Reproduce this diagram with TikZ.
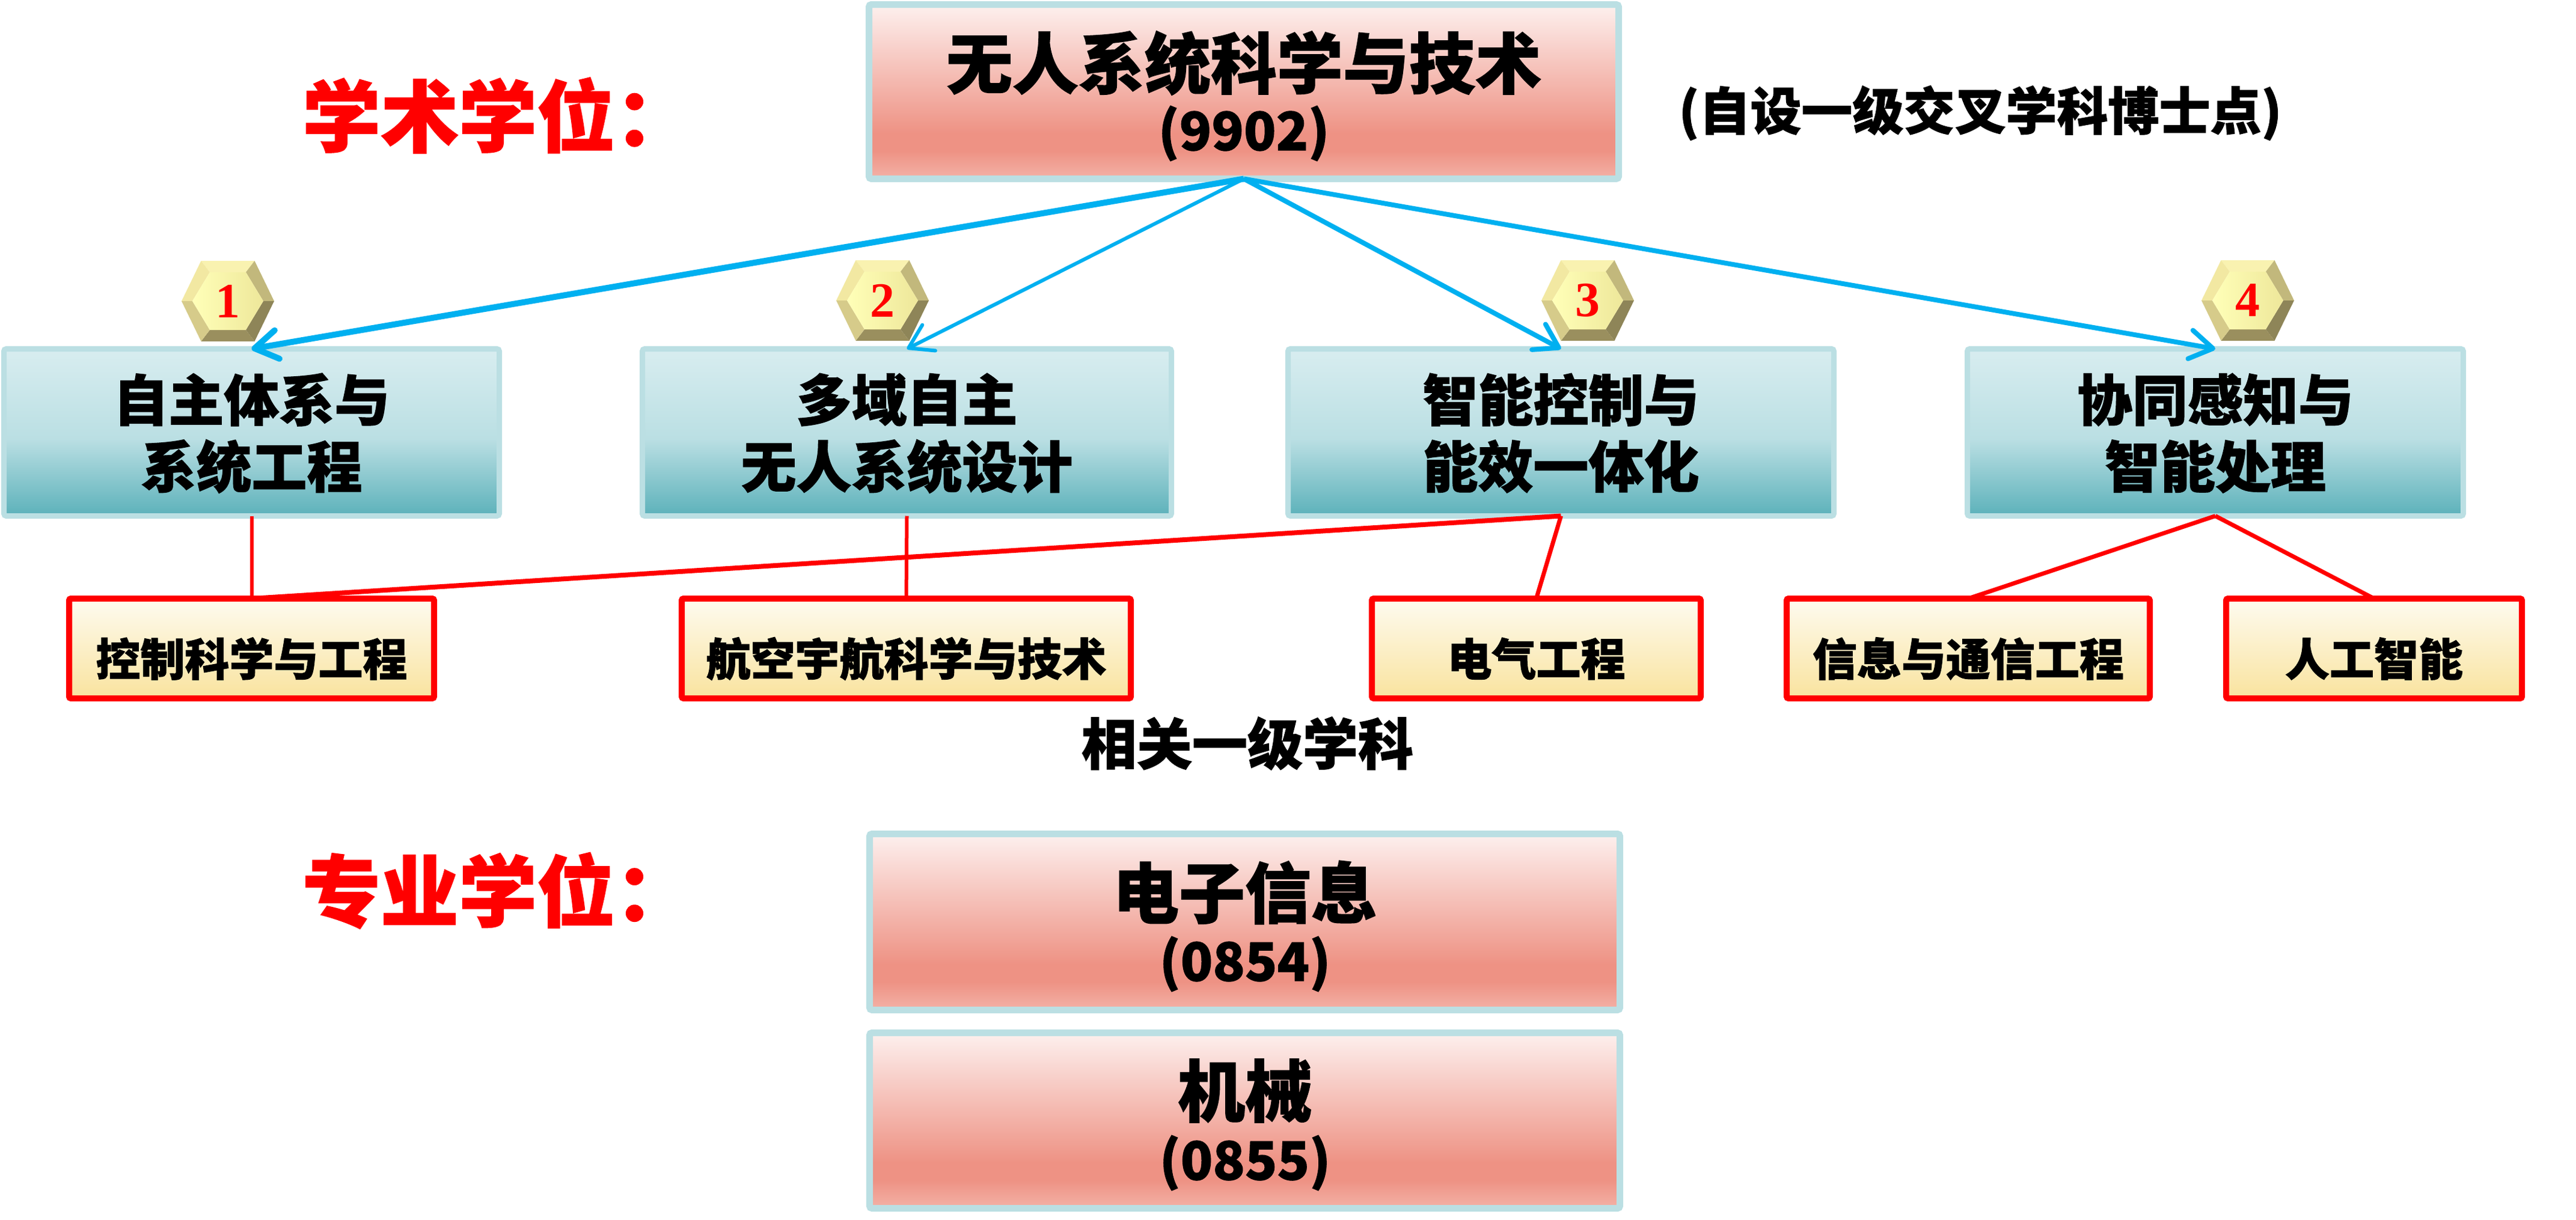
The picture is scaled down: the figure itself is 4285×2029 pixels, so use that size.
\documentclass[tikz,border=0pt]{standalone}
\usepackage{fontspec}
\newfontfamily\hei{Noto Sans CJK SC}[BoldFeatures={FakeBold=1.2}]
\newfontfamily\tnr{Liberation Serif}
\usetikzlibrary{arrows.meta}
\definecolor{bdblue}{HTML}{BBDFE3}
\definecolor{arrblue}{HTML}{00B0F0}
\definecolor{pkT}{HTML}{FDF0EE}
\definecolor{pkS}{HTML}{EE9284}
\definecolor{pkB}{HTML}{F3B2A7}
\definecolor{blT}{HTML}{D8EDF0}
\definecolor{blM}{HTML}{BADFE3}
\definecolor{blB}{HTML}{5CB1BA}
\definecolor{yelT}{HTML}{FEFBF0}
\definecolor{yelB}{HTML}{F9E39E}
\definecolor{hxTop}{HTML}{F9F2B0}
\definecolor{hxUL}{HTML}{F2E8A2}
\definecolor{hxUR}{HTML}{C2B87C}
\definecolor{hxLR}{HTML}{8E8558}
\definecolor{hxBot}{HTML}{9A8F5E}
\definecolor{hxLL}{HTML}{D6CB8A}
\definecolor{hxInL}{HTML}{FFFFB8}
\definecolor{hxInR}{HTML}{EEE79A}
\pgfdeclareverticalshading{pinkshade}{100bp}{color(0bp)=(pkB); color(25bp)=(pkB); color(33bp)=(pkS); color(38bp)=(pkS); color(75bp)=(pkT); color(100bp)=(pkT)}
\pgfdeclareverticalshading{blueshade}{100bp}{color(0bp)=(blB); color(25bp)=(blB); color(48bp)=(blM); color(75bp)=(blT); color(100bp)=(blT)}
\newcommand\hexbadge[3]{%
\begin{scope}[shift={(#2)}]
 \fill[hxTop] (-44.5,-67) -- (44.5,-67) -- (30,-48) -- (-30,-48) -- cycle;
 \fill[hxUL] (-77,0) -- (-44.5,-67) -- (-30,-48) -- (-59,0) -- cycle;
 \fill[hxUR] (44.5,-67) -- (77,0) -- (59,0) -- (30,-48) -- cycle;
 \fill[hxLR] (77,0) -- (44.5,67) -- (30,48) -- (59,0) -- cycle;
 \fill[hxBot] (44.5,67) -- (-44.5,67) -- (-30,48) -- (30,48) -- cycle;
 \fill[hxLL] (-44.5,67) -- (-77,0) -- (-59,0) -- (-30,48) -- cycle;
 \shade[left color=hxInL, right color=hxInR] (-59,0) -- (-30,-48) -- (30,-48) -- (59,0) -- (30,48) -- (-30,48) -- cycle;
 \node[digitfont] (#1) at (0,0) {#3};
\end{scope}}
\begin{document}
\begin{tikzpicture}[x=1pt,y=-1pt,
  pinkbox/.style={draw=bdblue, line width=11pt, rounded corners=4pt, shade, shading=pinkshade, inner sep=0pt, outer sep=0pt},
  bluebox/.style={draw=bdblue, line width=9pt, rounded corners=4pt, shade, shading=blueshade, inner sep=0pt, outer sep=0pt, minimum height=278pt},
  yelbox/.style={draw=red, line width=10pt, rounded corners=3pt, top color=yelT, bottom color=yelB, inner sep=0pt, outer sep=0pt, minimum height=166pt},
  bluearr/.style={draw=arrblue, -{Straight Barb[length=38pt,width=48pt,round]}},
  redline/.style={draw=red, line width=7pt},
  txt/.style={inner sep=0pt, outer sep=0pt, text=black},
  hdr/.style={txt, text=red, font=\hei\bfseries\fontsize{130}{140}\selectfont},
  titlefont/.style={txt, font=\hei\bfseries\fontsize{110}{120}\selectfont},
  codefont/.style={txt, font=\hei\bfseries\fontsize{88}{96}\selectfont},
  midfont/.style={txt, font=\hei\bfseries\fontsize{92}{100}\selectfont},
  lowfont/.style={txt, font=\hei\bfseries\fontsize{74}{80}\selectfont},
  notefont/.style={txt, font=\hei\bfseries\fontsize{85}{92}\selectfont},
  digitfont/.style={inner sep=0pt, text=red, font=\tnr\bfseries\fontsize{82}{90}\selectfont}
]
\useasboundingbox (0,0) rectangle (4285,2029);

% top box
\node[pinkbox, minimum width=1247pt, minimum height=290pt] (top) at (2069,152.5) {};
\node[titlefont] (toptitle) at (2069,105) {无人系统科学与技术};
\node[codefont] (topcode) at (2069,222) {(9902)};

% left headings
\node[hdr, anchor=west] (xs) at (503,192) {学术学位：};
\node[hdr, anchor=west] (zy) at (503,1482) {专业学位：};
\node[notefont] (note) at (3294,188) {(自设一级交叉学科博士点)};

% second level boxes
\node[bluebox, minimum width=824pt] (b1) at (418.5,719.5) {};
\node[bluebox, minimum width=880pt] (b2) at (1508.5,719.5) {};
\node[bluebox, minimum width=908pt] (b3) at (2596.5,719.5) {};
\node[bluebox, minimum width=825pt] (b4) at (3685,719.5) {};
\node[midfont] (b1a) at (418.5,665) {自主体系与};
\node[midfont] (b1b) at (418.5,776) {系统工程};
\node[midfont] (b2a) at (1508.5,665) {多域自主};
\node[midfont] (b2b) at (1508.5,776) {无人系统设计};
\node[midfont] (b3a) at (2596.5,665) {智能控制与};
\node[midfont] (b3b) at (2596.5,776) {能效一体化};
\node[midfont] (b4a) at (3685,665) {协同感知与};
\node[midfont] (b4b) at (3685,776) {智能处理};

% lower boxes
\node[yelbox, minimum width=607pt] (l1) at (418.5,1079) {};
\node[yelbox, minimum width=747pt] (l2) at (1507.5,1079) {};
\node[yelbox, minimum width=547pt] (l3) at (2555.5,1079) {};
\node[yelbox, minimum width=604pt] (l4) at (3274,1079) {};
\node[yelbox, minimum width=492pt] (l5) at (3949,1079) {};
\node[lowfont] (l1t) at (418.5,1096) {控制科学与工程};
\node[lowfont] (l2t) at (1507.5,1096) {航空宇航科学与技术};
\node[lowfont] (l3t) at (2555.5,1096) {电气工程};
\node[lowfont] (l4t) at (3274,1096) {信息与通信工程};
\node[lowfont] (l5t) at (3949,1096) {人工智能};
\node[midfont] (rel) at (2075,1237) {相关一级学科};

% professional degree boxes
\node[pinkbox, minimum width=1248pt, minimum height=293pt] (p1) at (2070.5,1534) {};
\node[titlefont] (p1t) at (2071,1485) {电子信息};
\node[codefont] (p1c) at (2071,1604) {(0854)};
\node[pinkbox, minimum width=1248pt, minimum height=292pt] (p2) at (2070.5,1864.5) {};
\node[titlefont, font=\hei\bfseries\fontsize{112}{120}\selectfont] (p2t) at (2071,1815) {机械};
\node[codefont] (p2c) at (2071,1935) {(0855)};

% red connectors
\draw[redline, line width=6pt] (b1.south) -- (l1.north);
\draw[redline, line width=8pt] (b3.south) -- (l1.north);
\draw[redline, line width=6pt] (b2.south) -- (l2.north);
\draw[redline] (b3.south) -- (l3.north);
\draw[redline] (b4.south) -- (l4.north);
\draw[redline] (b4.south) -- (l5.north);

% blue arrows
\draw[bluearr, line width=10pt] (top.south) -- (b1.north);
\draw[bluearr, line width=6pt] (top.south) -- (b2.north);
\draw[bluearr, line width=8pt] (top.south) -- (b3.north);
\draw[bluearr, line width=8pt] (top.south) -- (b4.north);

% badges
\hexbadge{n1}{379,501}{1}
\hexbadge{n2}{1468,500}{2}
\hexbadge{n3}{2641,500}{3}
\hexbadge{n4}{3739,500}{4}
\end{tikzpicture}
\end{document}
